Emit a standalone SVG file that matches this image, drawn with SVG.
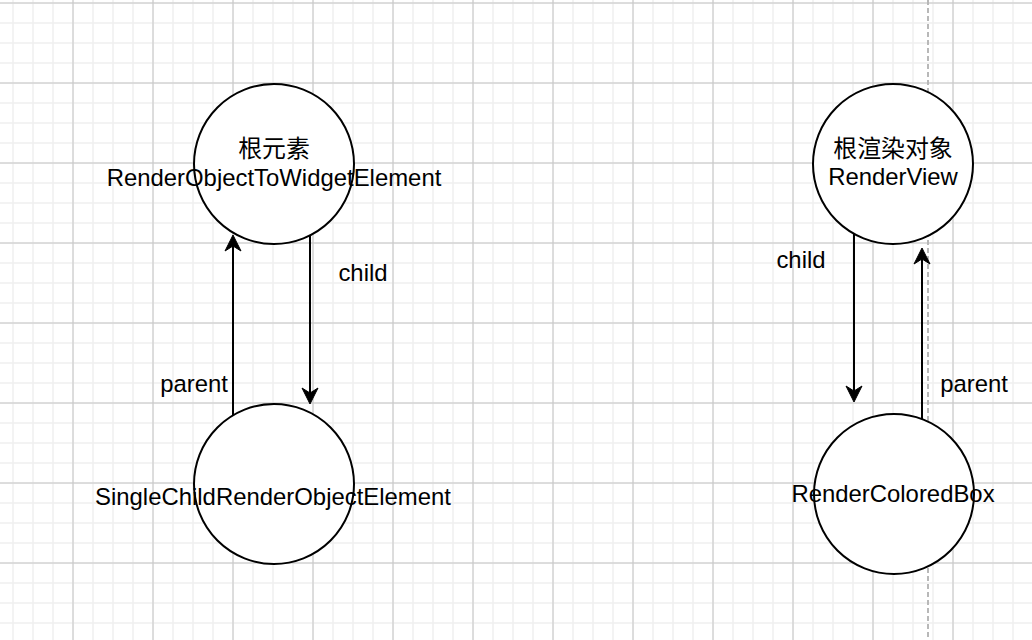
<svg xmlns="http://www.w3.org/2000/svg" width="1032" height="640" viewBox="0 0 1032 640">
<style>
.node{fill:#ffffff;stroke:#000000;stroke-width:2}
.lbl{font-family:"Liberation Sans","Noto Sans CJK SC",sans-serif;font-size:23.9px;fill:#000000;text-anchor:middle}
.edge{fill:none;stroke:#000000;stroke-width:2}
</style>
<defs>
<pattern id="minor" patternUnits="userSpaceOnUse" x="3" y="-7" width="20" height="20">
<path d="M10 0V20M0 10H20" stroke="#f0f0f0" stroke-width="1.5" fill="none"/>
</pattern>
<pattern id="major" patternUnits="userSpaceOnUse" x="33" y="-37" width="80" height="80">
<path d="M40 0V80M0 40H80" stroke="#c6c6c6" stroke-width="1" fill="none"/>
</pattern>
<marker id="arr" markerUnits="userSpaceOnUse" markerWidth="24" markerHeight="24" viewBox="-8 -12 24 24" refX="0" refY="0" orient="auto" overflow="visible">
<path d="M11,0 L-5,-8 L0,0 L-5,8 Z" fill="#000000" stroke="#000000" stroke-width="1" stroke-linejoin="miter"/>
</marker>
</defs>
<g id="background">
<rect width="1032" height="640" fill="#ffffff"/>
<rect width="1032" height="640" fill="url(#minor)"/>
<rect width="1032" height="640" fill="url(#major)"/>
<line x1="928" y1="0" x2="928" y2="640" stroke="#b8b8b8" stroke-width="2" stroke-dasharray="5 3"/>
</g>
<g id="connectors">
<line class="edge" x1="233" y1="415" x2="233" y2="246" marker-end="url(#arr)"/>
<line class="edge" x1="310" y1="236" x2="310" y2="393" marker-end="url(#arr)"/>
<line class="edge" x1="854" y1="234" x2="854" y2="391" marker-end="url(#arr)"/>
<line class="edge" x1="922" y1="419" x2="922" y2="259" marker-end="url(#arr)"/>
</g>
<g id="node-root-element">
<circle class="node" cx="274" cy="164" r="80"/>
<text class="lbl" x="274" y="157">根元素</text>
<text class="lbl" x="274" y="186">RenderObjectToWidgetElement</text>
</g>
<g id="node-single-child">
<circle class="node" cx="274" cy="484" r="80"/>
<text class="lbl" x="273" y="505">SingleChildRenderObjectElement</text>
</g>
<g id="node-render-view">
<circle class="node" cx="893" cy="164" r="80"/>
<text class="lbl" x="893" y="157">根渲染对象</text>
<text class="lbl" x="893" y="185">RenderView</text>
</g>
<g id="node-render-colored-box">
<circle class="node" cx="894" cy="494" r="80"/>
<text class="lbl" x="893" y="502">RenderColoredBox</text>
</g>
<g id="edge-labels">
<text class="lbl" x="363" y="281">child</text>
<text class="lbl" x="194" y="392">parent</text>
<text class="lbl" x="801" y="268">child</text>
<text class="lbl" x="974" y="392">parent</text>
</g>
</svg>
